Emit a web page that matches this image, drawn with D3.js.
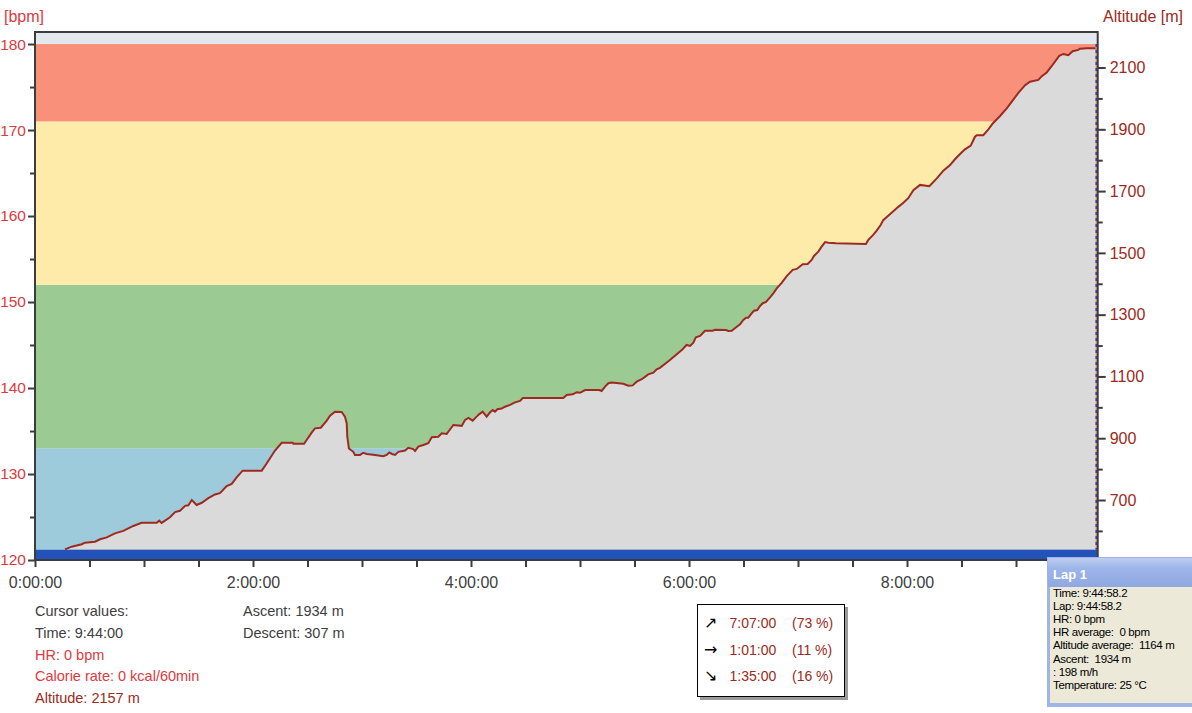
<!DOCTYPE html>
<html><head><meta charset="utf-8">
<script src="https://cdn.jsdelivr.net/npm/d3@7"></script>
<style>
body{margin:0;background:#fff;overflow:hidden}
text{font-family:"Liberation Sans",Arial,sans-serif}
</style>
</head><body>
<svg id="c" width="1192" height="713"></svg>
<script>
// ---- data ----
const timeMin = [16.5,20.2,25.7,27.5,33.0,35.8,39.5,44.0,48.6,54.1,58.7,67.0,68.4,69.7,74.3,77.1,79.8,82.6,84.4,86.3,89.0,91.8,95.4,99.1,101.8,105.5,108.3,111.0,114.3,124.8,127.5,132.1,135.8,141.9,142.2,148.1,152.3,154.1,157.3,160.6,162.4,165.1,168.8,170.6,171.6,171.9,172.8,175.2,176.1,178.9,180.7,182.6,187.2,191.7,193.6,195.0,196.5,198.2,200.0,203.7,205.5,208.2,209.2,211.0,213.7,216.5,218.4,222.0,223.9,226.6,227.5,230.3,234.9,236.7,238.6,240.9,243.1,244.6,246.4,248.6,250.5,252.0,253.2,254.5,256.9,258.7,261.5,264.2,267.0,268.5,290.8,292.7,296.0,298.2,300.0,302.8,310.6,311.9,313.8,315.6,317.5,323.8,326.6,329.0,331.2,334.0,336.3,337.6,340.4,342.2,344.0,349.5,356.5,358.7,360.6,362.4,363.8,366.1,368.8,373.0,374.3,380.4,381.6,383.5,386.3,388.1,389.9,391.4,392.6,394.5,395.8,397.6,399.1,400.6,402.4,404.6,406.4,408.3,411.0,413.8,417.1,419.3,422.6,425.3,427.5,428.8,431.2,433.0,434.9,436.7,440.9,457.4,458.7,461.4,463.3,465.5,466.9,470.6,475.2,478.0,480.7,483.5,487.2,492.3,496.4,500.0,503.7,506.4,509.2,511.9,515.1,517.4,518.4,522.0,524.8,527.2,531.2,534.9,537.6,541.3,545.0,547.7,552.3,554.2,556.9,559.7,563.8,566.0,568.8,571.2,574.3,575.2,578.9,583.5,584.4];
const altitude = [540,549,557,562,565,573,579,592,600,616,626,626,633,626,644,661,665,681,683,700,684,691,706,718,722,745,752,773,795,795,818,860,885,885,882,882,918,932,934,957,973,986,985,970,948,905,867,856,846,846,853,849,846,842,846,854,849,846,856,860,869,865,859,873,878,884,903,905,916,914,921,943,940,959,966,957,970,978,986,970,984,991,986,994,996,1002,1008,1016,1021,1030,1030,1040,1042,1049,1047,1056,1056,1053,1067,1078,1080,1076,1070,1071,1083,1091,1101,1107,1112,1123,1128,1153,1188,1202,1199,1209,1227,1231,1248,1248,1251,1250,1247,1248,1261,1269,1283,1290,1290,1304,1313,1315,1328,1337,1341,1356,1369,1385,1403,1425,1445,1448,1463,1464,1477,1490,1504,1520,1535,1533,1531,1529,1542,1558,1572,1590,1606,1625,1649,1662,1677,1703,1720,1716,1741,1766,1784,1803,1820,1835,1847,1876,1881,1881,1900,1919,1943,1968,1989,2018,2043,2054,2060,2072,2084,2105,2138,2144,2140,2153,2157,2161,2162,2162,2160];

const zoneLo = [120, 121.2, 133, 152, 171, 180];
const zoneHi = [121.2, 133, 152, 171, 180, 181.4];
const zoneColors = ["#2352bb","#9ecbdc","#9bcb93","#feebaa","#f8907a","#e3e8ef"];

const hrTicks = [120,130,140,150,160,170,180];
const hrMinor = [125,135,145,155,165,175];
const altTicks = [700,900,1100,1300,1500,1700,1900,2100];
const altMinor = [600,800,1000,1200,1400,1600,1800,2000];
const timeTicks = [0,120,240,360,480];
const timeLabels = ["0:00:00","2:00:00","4:00:00","6:00:00","8:00:00"];
const timeMinor = [30,60,90,150,180,210,270,300,330,390,420,450,510,540,570];

const cursorLines = ["Cursor values:","Time: 9:44:00","HR: 0 bpm","Calorie rate: 0 kcal/60min","Altitude: 2157 m"];
const cursorColors = ["#404040","#404040","#dc3a3e","#dc3a3e","#9c2a20"];
const statLines = ["Ascent: 1934 m","Descent: 307 m"];
const dirArrows = ["\u2197","\u2192","\u2198"];
const dirTimes = ["7:07:00","1:01:00","1:35:00"];
const dirPercents = ["(73 %)","(11 %)","(16 %)"];
const lapTitle = "Lap 1";
const lapLines = ["Time: 9:44:58.2","Lap: 9:44:58.2","HR: 0 bpm","HR average:  0 bpm","Altitude average:  1164 m","Ascent:  1934 m",": 198 m/h","Temperature: 25 °C"];

// ---- scales ----
const L = 35, R = 1097.7, T = 32, B = 560;
const x = d3.scaleLinear().domain([0, 584.97]).range([L, R]);
const yHr = d3.scaleLinear().domain([120, 181.4]).range([B, T]);
const yAlt = d3.scaleLinear().domain([505.8, 2215]).range([B, T]);

const svg = d3.select("#c");
const data = timeMin.map((t,i)=>({t, a: altitude[i]}));

// zones (except dark band drawn later)
const zones = zoneLo.map((lo,i)=>({lo, hi: zoneHi[i], c: zoneColors[i]}));
svg.append("g").selectAll("rect").data(zones.slice(1)).join("rect")
  .attr("x", L).attr("width", R - L)
  .attr("y", d=>yHr(d.hi)).attr("height", d=>yHr(d.lo)-yHr(d.hi))
  .attr("fill", d=>d.c);

// altitude area + line
svg.append("path").datum(data)
  .attr("d", d3.area().x(d=>x(d.t)).y0(B).y1(d=>yAlt(d.a)))
  .attr("fill", "#dadada");
svg.append("path").datum(data)
  .attr("d", d3.line().x(d=>x(d.t)).y(d=>yAlt(d.a)))
  .attr("fill", "none").attr("stroke", "#9e2a1f").attr("stroke-width", 2);

// dark bottom band
svg.append("rect").datum(zones[0])
  .attr("x", L).attr("width", R - L)
  .attr("y", d=>yHr(d.hi)).attr("height", d=>yHr(d.lo)-yHr(d.hi))
  .attr("fill", d=>d.c);

// cursor line at end
svg.append("line").attr("x1", x(584.97)-1.5).attr("x2", x(584.97)-1.5)
  .attr("y1", yHr(180)).attr("y2", yHr(121.2))
  .attr("stroke", "#f2a27a").attr("stroke-width", 1.5);
svg.append("line").attr("x1", x(584.97)-1.5).attr("x2", x(584.97)-1.5)
  .attr("y1", yHr(180)).attr("y2", yHr(121.2))
  .attr("stroke", "#2a44c0").attr("stroke-width", 1.5).attr("stroke-dasharray", "3,3");

// frame
svg.append("rect").attr("x", L).attr("y", T).attr("width", R-L).attr("height", B-T)
  .attr("fill", "none").attr("stroke", "#3c3c3c").attr("stroke-width", 2);

// axes
const axCol = "#3c3c3c";
const gL = svg.append("g").attr("transform", `translate(${L},0)`)
  .call(d3.axisLeft(yHr).tickValues(hrTicks).tickSize(7).tickPadding(5).tickFormat(d3.format("d")));
const gLm = svg.append("g").attr("transform", `translate(${L},0)`)
  .call(d3.axisLeft(yHr).tickValues(hrMinor).tickSize(5).tickFormat(""));
const gR = svg.append("g").attr("transform", `translate(${R},0)`)
  .call(d3.axisRight(yAlt).tickValues(altTicks).tickSize(8).tickPadding(5).tickFormat(d3.format("d")));
const gRm = svg.append("g").attr("transform", `translate(${R},0)`)
  .call(d3.axisRight(yAlt).tickValues(altMinor).tickSize(5).tickFormat(""));
const gB = svg.append("g").attr("transform", `translate(0,${B})`)
  .call(d3.axisBottom(x).tickValues(timeTicks).tickSize(7).tickPadding(10).tickFormat((d,i)=>timeLabels[i]));
const gBm = svg.append("g").attr("transform", `translate(0,${B})`)
  .call(d3.axisBottom(x).tickValues(timeMinor).tickSize(7).tickFormat(""));
[gL,gLm,gR,gRm,gB,gBm].forEach(g=>{
  g.select(".domain").remove();
  g.selectAll(".tick line").attr("stroke", axCol).attr("stroke-width", 2);
  g.selectAll("text").style("font-family",'"Liberation Sans",Arial,sans-serif').attr("font-size", 16);
});
gL.selectAll("text").attr("fill", "#dc3a3e").attr("x", -9).attr("font-size", 15.5);
gR.selectAll("text").attr("fill", "#9c2a20").attr("x", 12);
gB.selectAll("text").attr("fill", "#404040");

// axis titles
svg.append("text").attr("x", 4).attr("y", 22).attr("font-size", 16).attr("fill", "#dc3a3e").text("[bpm]");
svg.append("text").attr("x", 1183).attr("y", 22).attr("font-size", 16).attr("fill", "#9c2a20")
  .attr("text-anchor", "end").text("Altitude [m]");

// cursor values
svg.append("g").selectAll("text").data(cursorLines).join("text")
  .attr("x", 35).attr("y", (d,i)=>616 + i*21.8).attr("font-size", 14.5)
  .attr("fill", (d,i)=>cursorColors[i]).text(d=>d);
svg.append("g").selectAll("text").data(statLines).join("text")
  .attr("x", 243).attr("y", (d,i)=>616 + i*21.8).attr("font-size", 14.5)
  .attr("fill", "#404040").text(d=>d);

// direction box
svg.append("rect").attr("x", 700).attr("y", 607).attr("width", 148).attr("height", 93).attr("fill", "#9a9a9a");
svg.append("rect").attr("x", 697.5).attr("y", 604.5).attr("width", 147).attr("height", 92)
  .attr("fill", "#fff").attr("stroke", "#000").attr("stroke-width", 1);
const rows = svg.append("g");
dirArrows.forEach((a,i)=>{
  const yy = 628 + i*26.7;
  rows.append("text").attr("x", 704).attr("y", yy).attr("font-size", 16)
    .style("font-family", '"DejaVu Sans",sans-serif').attr("fill", "#000").text(a);
  rows.append("text").attr("x", 729.5).attr("y", yy).attr("font-size", 14).attr("fill", "#9c2a20").text(dirTimes[i]);
  rows.append("text").attr("x", 792).attr("y", yy).attr("font-size", 14).attr("fill", "#9c2a20").text(dirPercents[i]);
});

// lap box
const defs = svg.append("defs");
const lg = defs.append("linearGradient").attr("id", "tb").attr("x1",0).attr("y1",0).attr("x2",0).attr("y2",1);
lg.append("stop").attr("offset","0%").attr("stop-color","#bccdf0");
lg.append("stop").attr("offset","35%").attr("stop-color","#9db5e8");
lg.append("stop").attr("offset","100%").attr("stop-color","#8fa8e0");
svg.append("rect").attr("x", 1047).attr("y", 557).attr("width", 150).attr("height", 150)
  .attr("fill", "#9fb5e6");
svg.append("rect").attr("x", 1048).attr("y", 558).attr("width", 150).attr("height", 29)
  .attr("fill", "url(#tb)");
svg.append("rect").attr("x", 1050).attr("y", 587).attr("width", 150).attr("height", 116)
  .attr("fill", "#ece9d8");
svg.append("text").attr("x", 1053).attr("y", 579).attr("font-size", 13).attr("font-weight", "bold")
  .attr("fill", "#fff").text(lapTitle);
svg.append("g").selectAll("text").data(lapLines).join("text")
  .attr("x", 1053).attr("y", (d,i)=>597 + i*13.1).attr("font-size", 11.5)
  .style("white-space", "pre").attr("xml:space", "preserve")
  .attr("letter-spacing", "-0.35px").attr("fill", "#000").text(d=>d);
</script>
</body></html>
